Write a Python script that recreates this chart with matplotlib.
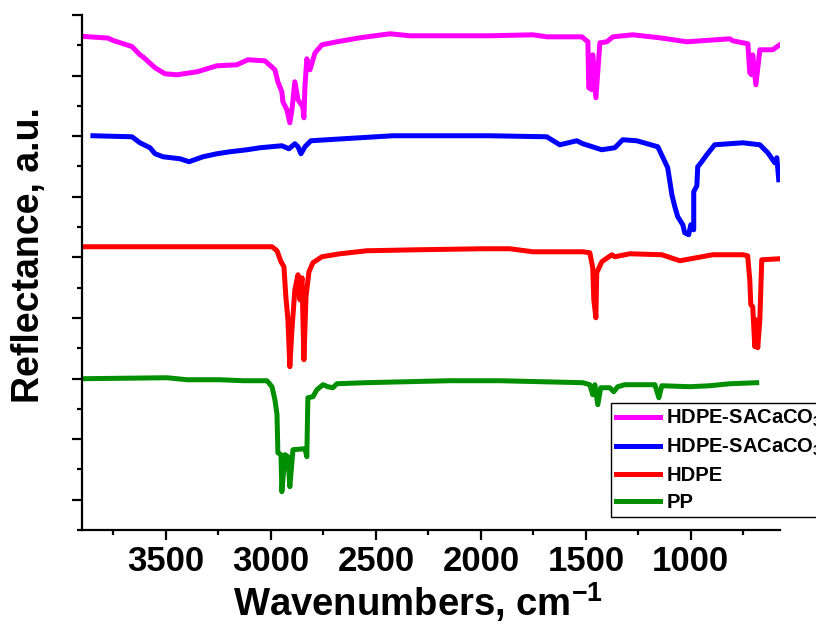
import numpy as np
import matplotlib
matplotlib.use("Agg")
import matplotlib.pyplot as plt
from matplotlib.ticker import MultipleLocator, NullFormatter

plt.rcParams['font.family'] = ['Liberation Sans', 'DejaVu Sans']
plt.rcParams['mathtext.fontset'] = 'custom'
plt.rcParams['mathtext.rm'] = 'Liberation Sans:bold'
plt.rcParams['mathtext.it'] = 'Liberation Sans:bold'
plt.rcParams['mathtext.bf'] = 'Liberation Sans:bold'

# spectra (wavenumber, reflectance in a.u., curves offset)
wn_sa2 = [3886, 3776, 3752, 3662, 3624, 3610, 3552, 3505, 3448, 3352, 3257, 3162,
          3110, 3029, 2981, 2967, 2948, 2943, 2924, 2910, 2900, 2886, 2871, 2848,
          2843, 2838, 2829, 2814, 2790, 2757, 2686, 2576, 2433, 2338, 1957, 1752,
          1686, 1519, 1490, 1486, 1471, 1467, 1452, 1433, 1400, 1371, 1276, 1148,
          1019, 814, 800, 728, 719, 710, 705, 690, 671, 610, 576]
r_sa2 = [7.645, 7.619, 7.579, 7.480, 7.343, 7.310, 7.129, 7.030, 7.013, 7.063, 7.162, 7.178,
         7.261, 7.244, 7.096, 6.898, 6.733, 6.568, 6.436, 6.221, 6.436, 6.898, 6.601, 6.485,
         6.304, 6.815, 7.277, 7.096, 7.376, 7.508, 7.558, 7.624, 7.690, 7.657, 7.657, 7.673,
         7.640, 7.640, 7.558, 6.799, 6.766, 7.343, 6.634, 7.541, 7.558, 7.640, 7.673, 7.624,
         7.558, 7.607, 7.574, 7.525, 7.046, 7.013, 7.343, 6.848, 7.426, 7.426, 7.508]

wn_sa1 = [3848, 3662, 3624, 3576, 3552, 3514, 3433, 3390, 3324, 3257, 3195, 3114,
          3052, 2948, 2914, 2886, 2871, 2857, 2838, 2810, 2733, 2576, 2419, 1957,
          1686, 1624, 1543, 1514, 1424, 1362, 1324, 1257, 1157, 1110, 1090, 1076,
          1062, 1038, 1029, 1010, 1000, 986, 986, 971, 967, 948, 924, 886, 752,
          671, 633, 600, 590, 581]
r_sa1 = [6.007, 5.990, 5.891, 5.809, 5.710, 5.660, 5.627, 5.578, 5.660, 5.710, 5.743, 5.776,
         5.809, 5.842, 5.792, 5.875, 5.825, 5.710, 5.825, 5.924, 5.941, 5.974, 6.007, 6.007,
         5.990, 5.858, 5.924, 5.875, 5.776, 5.809, 5.941, 5.924, 5.825, 5.479, 5.033, 4.835,
         4.670, 4.538, 4.406, 4.373, 4.538, 4.455, 5.083, 5.182, 5.495, 5.578, 5.693, 5.858, 5.891,
         5.858, 5.726, 5.561, 5.644, 5.281]

wn_hdpe = [3900, 3705, 3305, 3148, 2995, 2971, 2952, 2938, 2929, 2919, 2910, 2900,
           2886, 2871, 2862, 2852, 2843, 2833, 2819, 2800, 2757, 2671, 2543, 2305,
           1990, 1862, 1752, 1514, 1481, 1467, 1462, 1452, 1448, 1424, 1376, 1362,
           1290, 1138, 1052, 895, 752, 729, 719, 714, 705, 695, 690, 681, 671, 662, 576]
r_hdpe = [4.175, 4.175, 4.175, 4.175, 4.175, 4.109, 3.927, 3.845, 3.350, 2.970, 2.195, 2.805,
          3.465, 3.713, 3.300, 3.663, 2.310, 3.350, 3.762, 3.911, 4.010, 4.059, 4.109, 4.125,
          4.142, 4.142, 4.092, 4.092, 4.076, 3.828, 3.300, 3.003, 3.746, 3.927, 4.043, 4.010,
          4.059, 4.043, 3.944, 4.043, 4.043, 4.026, 3.630, 3.218, 3.185, 2.525, 2.970, 2.508,
          2.970, 3.960, 3.977]

wn_pp = [3900, 3495, 3400, 3243, 3133, 3019, 2995, 2981, 2971, 2967, 2952, 2948,
         2933, 2919, 2910, 2895, 2838, 2829, 2824, 2800, 2781, 2752, 2729, 2705,
         2686, 2552, 2148, 1910, 1514, 1481, 1467, 1457, 1443, 1429, 1386, 1367,
         1348, 1314, 1171, 1152, 1138, 1005, 910, 814, 686]
r_pp = [1.997, 2.013, 1.980, 1.980, 1.964, 1.964, 1.865, 1.650, 1.403, 0.776, 0.743, 0.132,
        0.743, 0.710, 0.215, 0.825, 0.842, 0.710, 1.683, 1.700, 1.815, 1.898, 1.865, 1.848,
        1.914, 1.931, 1.964, 1.964, 1.931, 1.898, 1.733, 1.898, 1.568, 1.848, 1.848, 1.782,
        1.865, 1.898, 1.898, 1.683, 1.881, 1.865, 1.881, 1.914, 1.931]

labels = ["HDPE-SACaCO$_3$-2", "HDPE-SACaCO$_3$-1", "HDPE", "PP"]
colors = ["#FF00FF", "#0000FF", "#FF0000", "#008F00"]

fig = plt.figure(figsize=(8.16, 6.25), dpi=100)
ax = fig.add_axes([82/816, 95/625, 698/816, 515/625])

series = [(wn_sa2, r_sa2), (wn_sa1, r_sa1), (wn_hdpe, r_hdpe), (wn_pp, r_pp)]
for (x, y), lab, c in zip(series, labels, colors):
    ax.plot(x, y, color=c, lw=3.6, label=lab, solid_joinstyle='round')

ax.set_xlim(3900, 575)
ax.set_ylim(-0.5, 8)
ax.xaxis.set_major_locator(MultipleLocator(500))
ax.xaxis.set_minor_locator(MultipleLocator(250))
ax.yaxis.set_major_locator(MultipleLocator(1))
ax.yaxis.set_minor_locator(MultipleLocator(0.5))
ax.yaxis.set_major_formatter(NullFormatter())

for s in ["top", "right"]:
    ax.spines[s].set_visible(False)
for s in ["left", "bottom"]:
    ax.spines[s].set_linewidth(1.6)

ax.tick_params(which="major", direction="out", length=7, width=1.6)
ax.tick_params(which="minor", direction="out", length=3.5, width=1.6)
ax.tick_params(axis="x", labelsize=25, pad=4)
for t in ax.get_xticklabels():
    t.set_fontweight("bold")

ax.set_xlabel("Wavenumbers, cm$^{-1}$", fontsize=27.5, fontweight="bold")
ax.xaxis.set_label_coords(0.481, -0.098)
ax.set_ylabel("Reflectance, a.u.", fontsize=27, fontweight="bold")
ax.yaxis.set_label_coords(-0.05, 0.534)

leg = fig.legend(loc="upper left", bbox_to_anchor=(611/816, 1 - 403/625),
                 prop={"family": "Liberation Sans", "weight": "bold", "size": 14.5},
                 frameon=True, fancybox=False, edgecolor="black", framealpha=1,
                 handlelength=2.2, handletextpad=0.3, labelspacing=0.38,
                 borderpad=0.25, borderaxespad=0)
leg.get_frame().set_linewidth(1.0)

plt.savefig("out.png", dpi=100)
plt.close()
print("done")
